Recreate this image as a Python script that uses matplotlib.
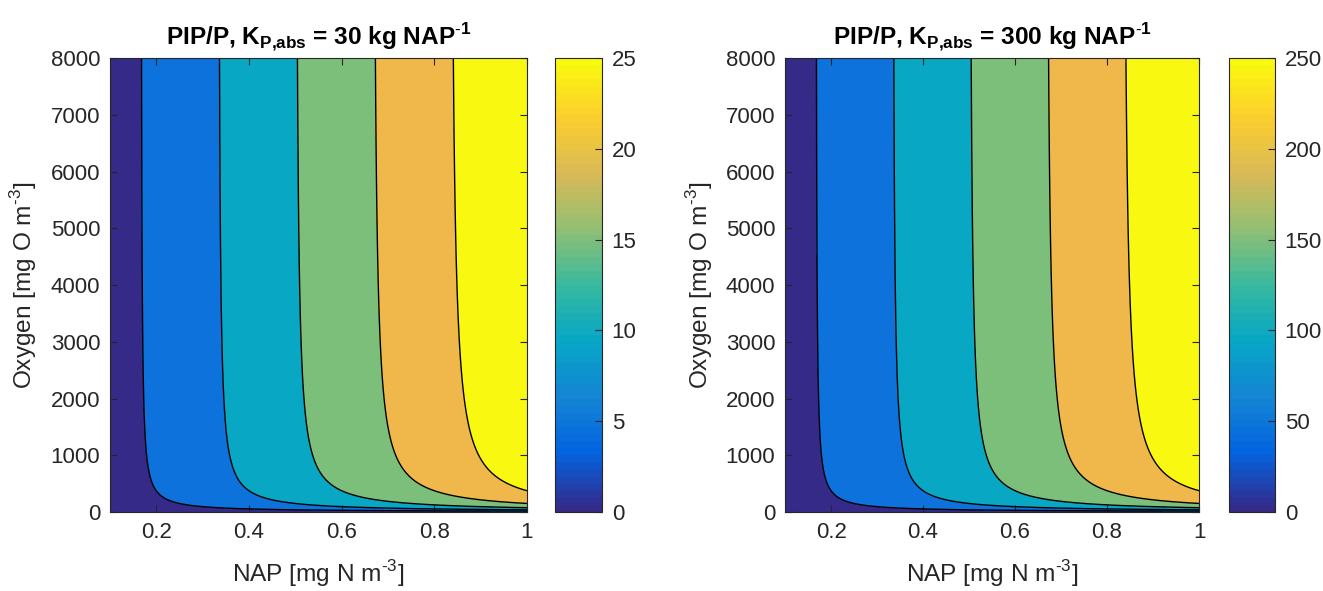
import numpy as np
import matplotlib
matplotlib.use("Agg")
import matplotlib.pyplot as plt
from matplotlib.colors import LinearSegmentedColormap, Normalize
from matplotlib.cm import ScalarMappable

plt.rcParams['font.family'] = ['Liberation Sans', 'DejaVu Sans']
plt.rcParams['mathtext.fontset'] = 'custom'
plt.rcParams['mathtext.rm'] = 'Liberation Sans'
plt.rcParams['mathtext.bf'] = 'Liberation Sans:bold'

# model parameters
k_abs = [30, 300]          # kg NAP^-1
k_oxygen = 75              # half saturation oxygen [mg O m-3]
nap_range = [0.1, 1.0]
oxy_range = [0, 8000]
fill_colors = ['#352a87', '#0e72dd', '#08a8c4', '#7cbf7b', '#f0b84a', '#f8f810']

# parula-like colormap, 64 steps
parula = LinearSegmentedColormap.from_list('parula', [
    '#352a87', '#0363e1', '#1485d4', '#06a7c6', '#38b99e',
    '#92bf73', '#d9ba56', '#fcce2e', '#f9fb0e'], N=64)

nap = np.linspace(nap_range[0], nap_range[1], 300)
oxy = np.linspace(oxy_range[0], oxy_range[1], 400)
N, O = np.meshgrid(nap, oxy)

fig = plt.figure(figsize=(13.23, 5.91), dpi=100)
ax_pos = [[0.0831, 0.1337, 0.3152, 0.768], [0.5934, 0.1337, 0.3129, 0.768]]
cb_pos = [[0.4195, 0.1337, 0.0355, 0.768], [0.9290, 0.1337, 0.0347, 0.768]]

txt = '#262626'
for i, k in enumerate(k_abs):
    ax = fig.add_axes(ax_pos[i])
    pip = k * N * O / (k_oxygen + O)
    top = k * 25 / 30
    levels = np.array([-1e9] + [top / 5 * j for j in range(1, 6)] + [1e9])
    ax.contourf(N, O, pip, levels=levels, colors=fill_colors)
    ax.contour(N, O, pip, levels=levels[1:-1], colors='k', linewidths=1.0)
    ax.set_xlim(nap_range)
    ax.set_ylim(oxy_range)
    ax.set_xticks([0.2, 0.4, 0.6, 0.8, 1.0])
    ax.set_xticklabels(['0.2', '0.4', '0.6', '0.8', '1'])
    ax.set_yticks(np.arange(0, 8001, 1000))
    ax.tick_params(direction='in', top=True, right=True, labelsize=16,
                   colors='#262626', labelcolor=txt, length=5, pad=7)
    for s in ax.spines.values():
        s.set_color('#262626')
    ax.set_xlabel(r'NAP [mg N m$^{\text{-}3}$]', fontsize=17.6, color=txt, labelpad=11)
    ax.set_ylabel(r'Oxygen [mg O m$^{\text{-}3}$]', fontsize=17.6, color=txt, labelpad=8)
    ax.set_title(r'PIP/P, K$_{\mathbf{P{,}abs}}$ = %d kg NAP$^{\mathbf{\text{-}1}}$' % k,
                 fontsize=17.6, fontweight='bold', pad=9)

    cax = fig.add_axes(cb_pos[i])
    sm = ScalarMappable(norm=Normalize(0, top), cmap=parula)
    cb = fig.colorbar(sm, cax=cax, ticks=[top / 5 * j for j in range(6)])
    cb.ax.set_yticklabels(['%d' % (top / 5 * j) for j in range(6)])
    cb.ax.tick_params(direction='in', labelsize=16, labelcolor=txt,
                      color='#262626', length=5, pad=7)
    cb.outline.set_linewidth(0.8)
    cb.outline.set_edgecolor('#262626')

fig.savefig('out.png', dpi=100)
